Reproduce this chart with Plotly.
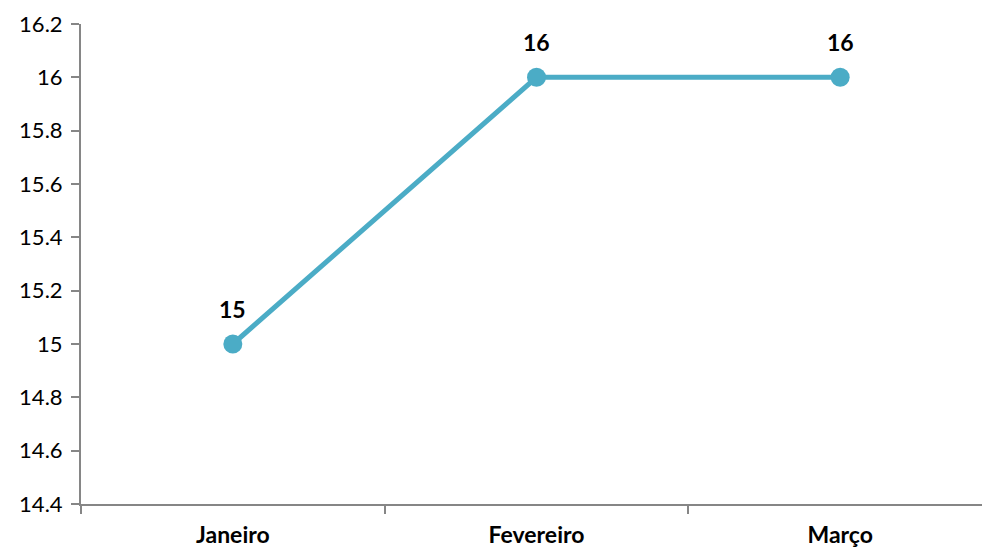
import plotly.graph_objects as go

categories = ["Janeiro", "Fevereiro", "Março"]
values = [15, 16, 16]
labels = ["15", "16", "16"]
y_ticks = [14.4, 14.6, 14.8, 15.0, 15.2, 15.4, 15.6, 15.8, 16.0, 16.2]
y_tick_text = ["14.4", "14.6", "14.8", "15", "15.2", "15.4", "15.6", "15.8", "16", "16.2"]

color = "#4BACC6"
axis_color = "#868686"
font_family = "Lato, 'Open Sans', sans-serif"

fig = go.Figure()
fig.add_trace(go.Scatter(
    x=categories, y=values, mode="lines+markers",
    line=dict(color=color, width=5),
    marker=dict(color=color, size=19),
    hoverinfo="skip", showlegend=False,
))

for c, v, t in zip(categories, values, labels):
    fig.add_annotation(x=c, y=v, text="<b>" + t + "</b>", showarrow=False,
                       yshift=35, font=dict(size=23, color="#000000", family=font_family))

fig.update_layout(
    width=982, height=549,
    margin=dict(l=81, r=0, t=24, b=45),
    paper_bgcolor="white", plot_bgcolor="white",
    font=dict(family=font_family, size=22, color="#000000"),
    xaxis=dict(
        type="category", range=[-0.5, 2.467], automargin=False,
        tickson="boundaries", ticks="outside", ticklen=8, tickcolor=axis_color, tickwidth=1.5,
        showline=True, linecolor=axis_color, linewidth=2, showgrid=False, zeroline=False,
        tickfont=dict(size=23, family=font_family, color="#000000", weight="bold"),
        ticklabelstandoff=9,
    ),
    yaxis=dict(
        range=[14.4, 16.2], tickvals=y_ticks, ticktext=y_tick_text, automargin=False,
        ticks="outside", ticklen=8, tickcolor=axis_color, tickwidth=1.5,
        showline=True, linecolor=axis_color, linewidth=2, showgrid=False, zeroline=False,
        tickfont=dict(size=22, family=font_family, color="#000000"),
        ticklabelstandoff=4,
    ),
)

fig.write_html("out.html", config={"displayModeBar": False},
               post_script="document.body.style.margin='0';document.body.style.overflow='hidden';")
